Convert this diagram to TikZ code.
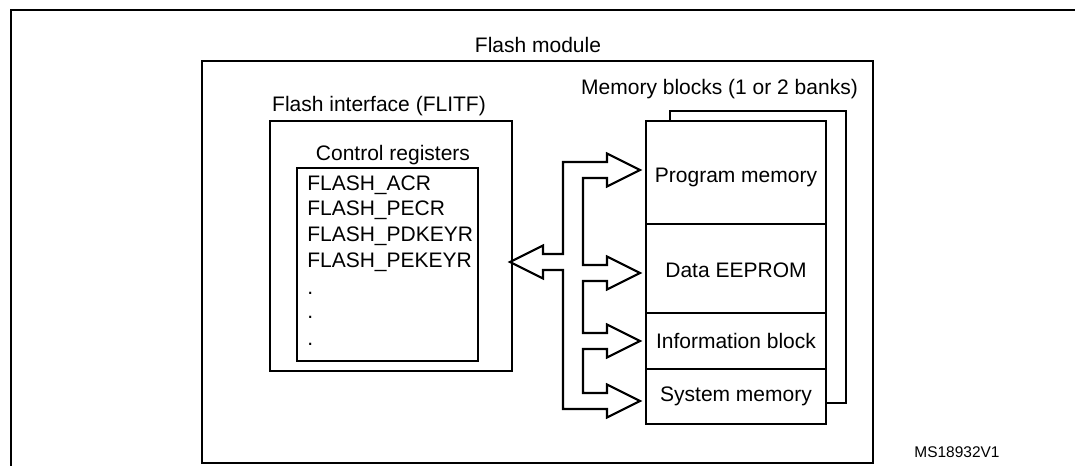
\documentclass[tikz,border=0pt]{standalone}
\usepackage{fontspec}
\setmainfont{Liberation Sans}
\usetikzlibrary{fit}
\begin{document}
\begin{tikzpicture}[x=0.75pt,y=-0.75pt,line join=miter]
\tikzset{
  lbl/.style={font=\fontsize{15.75}{18}\selectfont, inner sep=0pt},
  small/.style={font=\fontsize{11.6}{14}\selectfont, inner sep=0pt},
  thickbox/.style={draw, line width=2pt, inner sep=0pt},
  thinbox/.style={draw, line width=1.6pt, inner sep=0pt},
  busline/.style={draw, line width=1.6pt, fill=white}
}
\useasboundingbox (0,0) rectangle (1075,465);
\clip (0,0) rectangle (1075,465);
\fill[white] (0,0) rectangle (1075,465);

% outer (cropped) frame
\coordinate (fa) at (11,480);
\coordinate (fb) at (11,10);
\coordinate (fc) at (1090,10);
\draw[line width=1.8pt] (fa) -- (fb) -- (fc);

% flash module
\node[thickbox, fit={(202,61) (873,463)}] (fm) {};
\node[lbl] (fmlbl) at (538,45) {Flash module};

% flash interface
\node[thickbox, fit={(270,121) (512,371)}] (fi) {};
\node[lbl] (filbl) at (379,106) {Flash interface (FLITF)};

% control registers
\node[thinbox, fit={(297,168) (478,361)}] (cr) {};
\node[lbl] (crlbl) at (393,155) {Control registers};
\node[lbl, anchor=west] (r1) at (307,185) {FLASH\_ACR};
\node[lbl, anchor=west] (r2) at (307,210) {FLASH\_PECR};
\node[lbl, anchor=west] (r3) at (307,236) {FLASH\_PDKEYR};
\node[lbl, anchor=west] (r4) at (307,262) {FLASH\_PEKEYR};
\node[lbl, anchor=west] (d1) at (307,293) {.};
\node[lbl, anchor=west] (d2) at (307,317) {.};
\node[lbl, anchor=west] (d3) at (307,344) {.};

% memory blocks
\node[lbl] (mblbl) at (719.5,89) {Memory blocks (1 or 2 banks)};
\coordinate (bk1) at (670,121);
\coordinate (bk2) at (670,111);
\coordinate (bk3) at (846,111);
\coordinate (bk4) at (846,403);
\coordinate (bk5) at (826,403);
\draw[line width=1.6pt] (bk1) -- (bk2) -- (bk3) -- (bk4) -- (bk5);

\node[thinbox, fit={(646,121) (826,224)}] (pm) {};
\node[thinbox, fit={(646,224) (826,313)}] (de) {};
\node[thinbox, fit={(646,313) (826,369)}] (ib) {};
\node[thinbox, fit={(646,369) (826,424)}] (sm) {};
\node[lbl] (pmlbl) at (736,177) {Program memory};
\node[lbl] (delbl) at (736,270) {Data EEPROM};
\node[lbl] (iblbl) at (736,341) {Information block};
\node[lbl] (smlbl) at (736,396) {System memory};

% bus arrow
\draw[busline]
  (510,262) -- (543,245.5) -- (543,254) -- (563,254) -- (563,162)
  -- (607,162) -- (607,153.5) -- (640,170) -- (607,186.5) -- (607,178)
  -- (583,178) -- (583,265) -- (607,265) -- (607,256.5) -- (640,273)
  -- (607,289.5) -- (607,281) -- (583,281) -- (583,333) -- (607,333)
  -- (607,324.5) -- (640,341) -- (607,357.5) -- (607,349) -- (583,349)
  -- (583,393) -- (607,393) -- (607,384.5) -- (640,401) -- (607,417.5)
  -- (607,409) -- (563,409) -- (563,270) -- (543,270) -- (543,278.5)
  -- cycle;

\node[small] (ms) at (957,452) {MS18932V1};
\end{tikzpicture}
\end{document}
